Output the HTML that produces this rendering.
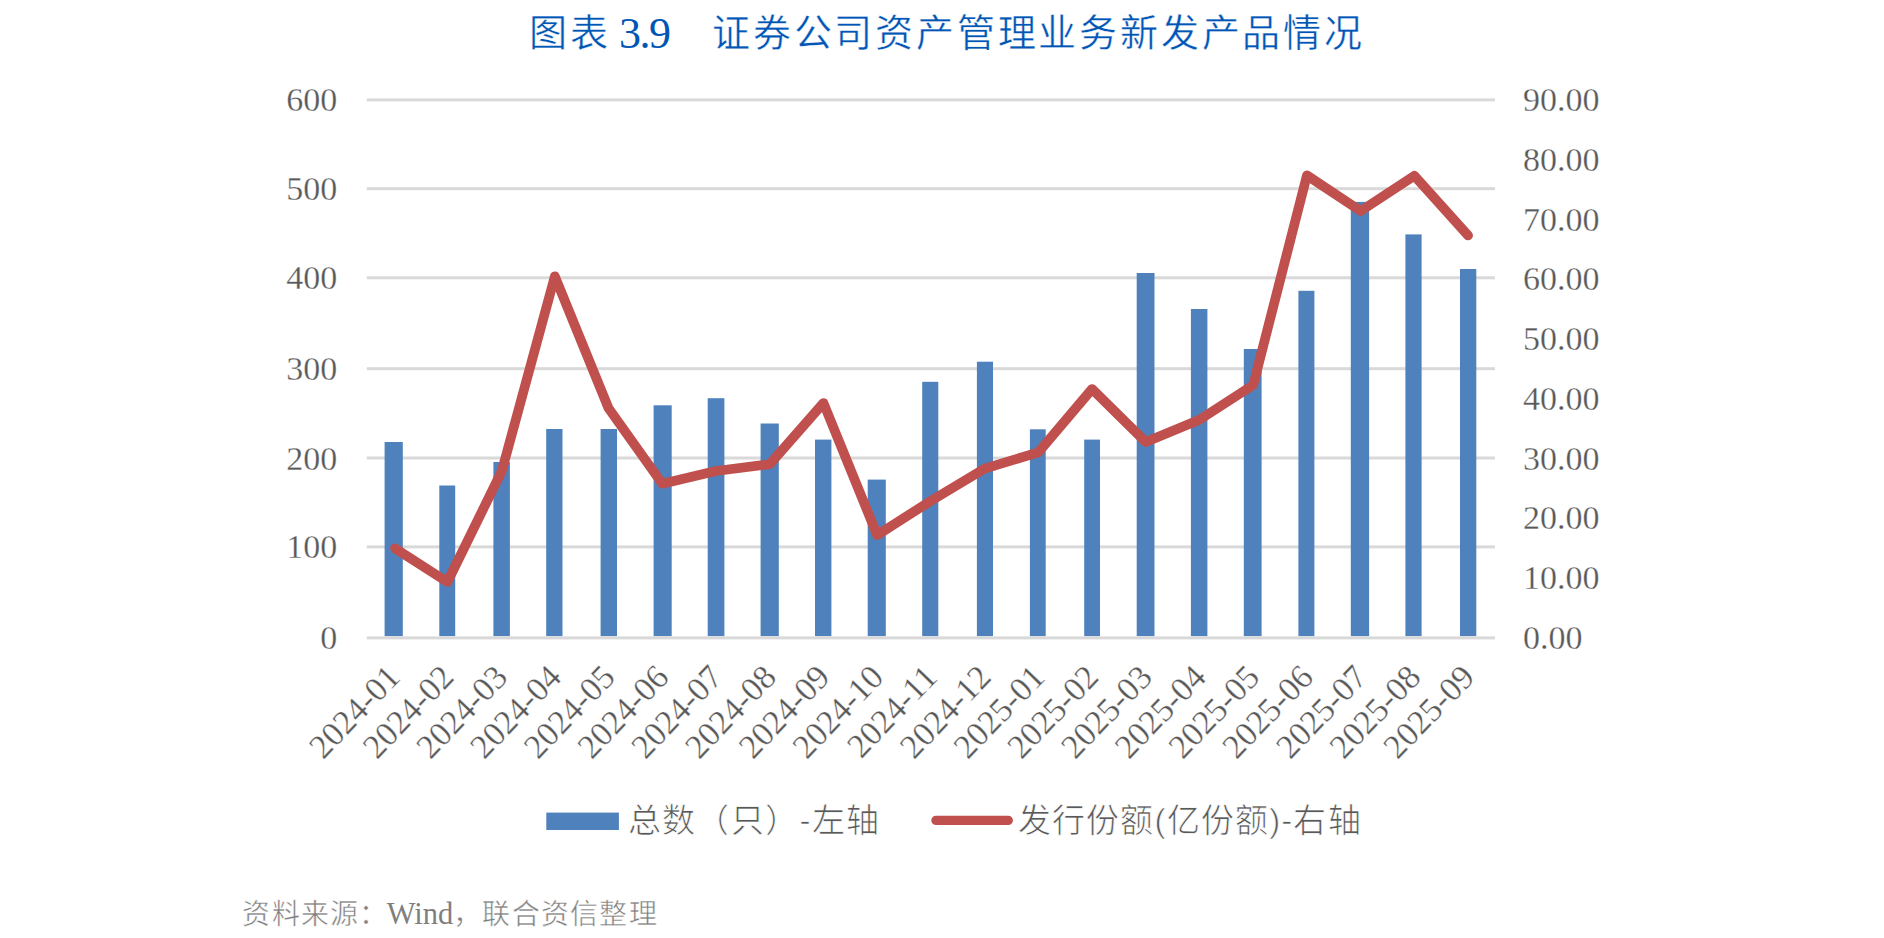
<!DOCTYPE html><html lang="zh-CN"><head><meta charset="utf-8"><title>chart</title><style>html,body{margin:0;padding:0;background:#fff;width:1884px;height:938px;overflow:hidden}svg{display:block}</style></head><body>
<svg width="1884" height="938" viewBox="0 0 1884 938">
<rect x="366.8" y="98.40" width="1128.2" height="3" fill="#D9D9D9"/>
<rect x="366.8" y="187.20" width="1128.2" height="3" fill="#D9D9D9"/>
<rect x="366.8" y="276.30" width="1128.2" height="3" fill="#D9D9D9"/>
<rect x="366.8" y="367.20" width="1128.2" height="3" fill="#D9D9D9"/>
<rect x="366.8" y="456.50" width="1128.2" height="3" fill="#D9D9D9"/>
<rect x="366.8" y="545.40" width="1128.2" height="3" fill="#D9D9D9"/>
<rect x="384.60" y="442" width="18.20" height="194.20" fill="#4F81BD"/>
<rect x="439.30" y="485.5" width="15.90" height="150.70" fill="#4F81BD"/>
<rect x="493.40" y="462" width="16.50" height="174.20" fill="#4F81BD"/>
<rect x="546.20" y="429" width="16.30" height="207.20" fill="#4F81BD"/>
<rect x="600.60" y="429" width="16.40" height="207.20" fill="#4F81BD"/>
<rect x="653.60" y="405.3" width="18.10" height="230.90" fill="#4F81BD"/>
<rect x="707.70" y="398.2" width="16.70" height="238.00" fill="#4F81BD"/>
<rect x="760.60" y="423.5" width="18.20" height="212.70" fill="#4F81BD"/>
<rect x="815.00" y="439.6" width="16.40" height="196.60" fill="#4F81BD"/>
<rect x="867.70" y="479.6" width="18.10" height="156.60" fill="#4F81BD"/>
<rect x="922.20" y="381.8" width="16.10" height="254.40" fill="#4F81BD"/>
<rect x="976.90" y="361.7" width="16.10" height="274.50" fill="#4F81BD"/>
<rect x="1029.90" y="429.3" width="15.80" height="206.90" fill="#4F81BD"/>
<rect x="1084.20" y="439.6" width="15.80" height="196.60" fill="#4F81BD"/>
<rect x="1136.70" y="273" width="17.80" height="363.20" fill="#4F81BD"/>
<rect x="1190.90" y="309" width="16.50" height="327.20" fill="#4F81BD"/>
<rect x="1243.80" y="349" width="17.80" height="287.20" fill="#4F81BD"/>
<rect x="1298.40" y="290.8" width="16.00" height="345.40" fill="#4F81BD"/>
<rect x="1350.80" y="201.9" width="18.30" height="434.30" fill="#4F81BD"/>
<rect x="1405.40" y="234.4" width="16.20" height="401.80" fill="#4F81BD"/>
<rect x="1460.00" y="269" width="16.30" height="367.20" fill="#4F81BD"/>
<rect x="366.8" y="636.40" width="1128.2" height="3" fill="#D9D9D9"/>
<polyline points="395.00,548.3 447.42,582 501.84,471 554.86,276.3 608.58,408.3 662.30,483.7 716.02,471 769.74,464.2 823.46,403 877.18,535.1 930.90,500.8 984.62,468.6 1038.34,452.3 1092.06,389 1145.78,442 1199.50,419.8 1253.22,385 1306.94,175.4 1360.66,211 1414.38,175.8 1468.10,235.5" fill="none" stroke="#C0504D" stroke-width="9.7" stroke-linejoin="round" stroke-linecap="round"/>
<g font-family="Liberation Serif" font-size="34" fill="#595959" stroke="#fff" stroke-width="0.28">
<text x="337.3" y="111.40" text-anchor="end">600</text>
<text x="337.3" y="200.20" text-anchor="end">500</text>
<text x="337.3" y="289.30" text-anchor="end">400</text>
<text x="337.3" y="380.20" text-anchor="end">300</text>
<text x="337.3" y="469.50" text-anchor="end">200</text>
<text x="337.3" y="558.40" text-anchor="end">100</text>
<text x="337.3" y="649.40" text-anchor="end">0</text>
<text x="1523" y="111.10">90.00</text>
<text x="1523" y="170.87">80.00</text>
<text x="1523" y="230.63">70.00</text>
<text x="1523" y="290.40">60.00</text>
<text x="1523" y="350.17">50.00</text>
<text x="1523" y="409.93">40.00</text>
<text x="1523" y="469.70">30.00</text>
<text x="1523" y="529.47">20.00</text>
<text x="1523" y="589.23">10.00</text>
<text x="1523" y="649.00">0.00</text>
</g>
<g font-family="Liberation Serif" font-size="34" fill="#595959" stroke="#fff" stroke-width="0.28">
<text transform="translate(401.90,678.8) rotate(-46)" text-anchor="end">2024-01</text>
<text transform="translate(455.62,678.8) rotate(-46)" text-anchor="end">2024-02</text>
<text transform="translate(509.34,678.8) rotate(-46)" text-anchor="end">2024-03</text>
<text transform="translate(563.06,678.8) rotate(-46)" text-anchor="end">2024-04</text>
<text transform="translate(616.78,678.8) rotate(-46)" text-anchor="end">2024-05</text>
<text transform="translate(670.50,678.8) rotate(-46)" text-anchor="end">2024-06</text>
<text transform="translate(724.22,678.8) rotate(-46)" text-anchor="end">2024-07</text>
<text transform="translate(777.94,678.8) rotate(-46)" text-anchor="end">2024-08</text>
<text transform="translate(831.66,678.8) rotate(-46)" text-anchor="end">2024-09</text>
<text transform="translate(885.38,678.8) rotate(-46)" text-anchor="end">2024-10</text>
<text transform="translate(939.10,678.8) rotate(-46)" text-anchor="end">2024-11</text>
<text transform="translate(992.82,678.8) rotate(-46)" text-anchor="end">2024-12</text>
<text transform="translate(1046.54,678.8) rotate(-46)" text-anchor="end">2025-01</text>
<text transform="translate(1100.26,678.8) rotate(-46)" text-anchor="end">2025-02</text>
<text transform="translate(1153.98,678.8) rotate(-46)" text-anchor="end">2025-03</text>
<text transform="translate(1207.70,678.8) rotate(-46)" text-anchor="end">2025-04</text>
<text transform="translate(1261.42,678.8) rotate(-46)" text-anchor="end">2025-05</text>
<text transform="translate(1315.14,678.8) rotate(-46)" text-anchor="end">2025-06</text>
<text transform="translate(1368.86,678.8) rotate(-46)" text-anchor="end">2025-07</text>
<text transform="translate(1422.58,678.8) rotate(-46)" text-anchor="end">2025-08</text>
<text transform="translate(1476.30,678.8) rotate(-46)" text-anchor="end">2025-09</text>
</g>
<rect x="546.3" y="812.6" width="72.6" height="17.4" fill="#4F81BD"/>
<line x1="936" y1="820.4" x2="1008.2" y2="820.4" stroke="#C0504D" stroke-width="9.4" stroke-linecap="round"/>
<g font-family="Liberation Sans" font-size="33" letter-spacing="1.4" fill="#595959" stroke="#fff" stroke-width="0.7">
<text x="627.5" y="832">总数（只）-左轴</text>
<text x="1018" y="832" letter-spacing="1.15">发行份额(亿份额)-右轴</text>
</g>
<g font-family="Liberation Serif" fill="#0055B5" stroke="#fff" stroke-width="0.4">
<text x="529" y="46" font-size="38" letter-spacing="2.8">图表</text>
<text x="619" y="48" font-size="44" letter-spacing="-1.5" stroke="none">3.9</text>
<text x="712" y="46" font-size="38" letter-spacing="2.8">证券公司资产管理业务新发产品情况</text>
</g>
<text x="242.4" y="923.8" font-family="Liberation Serif" font-size="28" letter-spacing="1.25" fill="#7F7F7F" stroke="#fff" stroke-width="0.5">资料来源：<tspan font-size="30.5" letter-spacing="0" dx="-2" stroke="none">Wind</tspan>，联合资信整理</text>
</svg></body></html>
